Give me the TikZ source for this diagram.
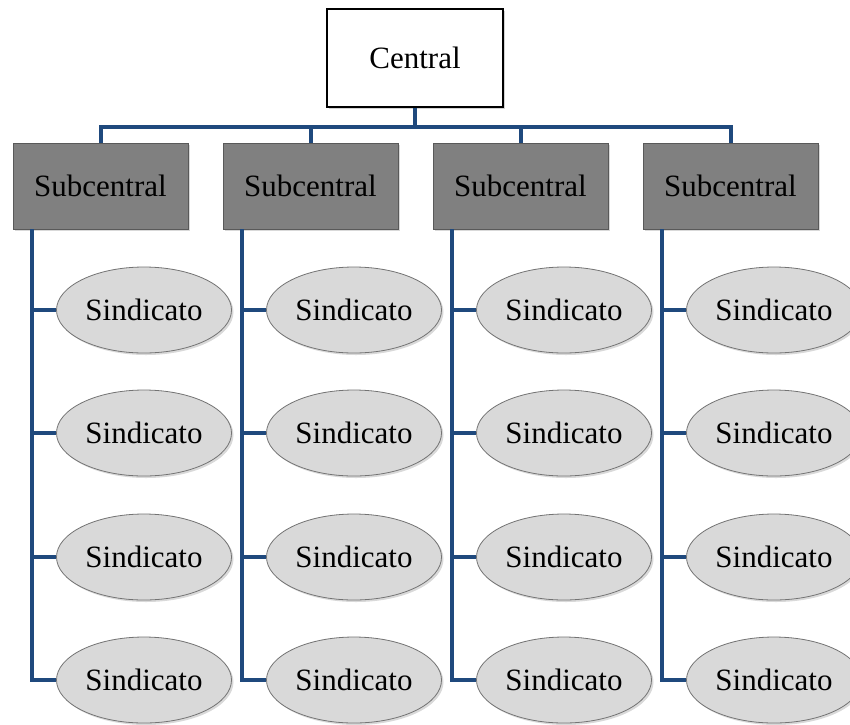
\documentclass[tikz,border=0pt]{standalone}
\usepackage{fontspec}
\setmainfont{Liberation Serif}
\usetikzlibrary{shapes.geometric,shadows}

\definecolor{linkblue}{RGB}{31,73,125}
\definecolor{subgray}{RGB}{128,128,128}
\definecolor{sindgray}{RGB}{217,217,217}

\begin{document}
\begin{tikzpicture}[
            x=1pt, y=-1pt,
            every node/.style={font=\fontsize{31}{36}\selectfont, inner sep=0pt},
            centralbox/.style={rectangle, draw=black, line width=1.5pt, fill=white,
                minimum width=176pt, minimum height=98pt,
                drop shadow={opacity=0.35, shadow xshift=2pt, shadow yshift=-2pt}},
            subbox/.style={rectangle, draw=black!65, line width=1pt, fill=subgray,
                minimum width=175pt, minimum height=86pt,
                drop shadow={opacity=0.3, shadow xshift=2pt, shadow yshift=-2pt}},
            sindicato/.style={ellipse, draw=black!55, line width=0.8pt, fill=sindgray,
                minimum width=175pt, minimum height=86pt,
                drop shadow={opacity=0.3, shadow xshift=2pt, shadow yshift=-2pt}},
            link/.style={draw=linkblue, line width=4pt}]

            \useasboundingbox (0,0) rectangle (850,724);

            \node[centralbox] (central) at (415,58) {Central};
            \coordinate (bus) at (0,127);

            \foreach \k/\xl in {1/13,2/223,3/433,4/643}{
                \node[subbox] (sub-\k) at (\xl+87.5,186) {Subcentral};
                \coordinate (spine-\k) at (\xl+19,229);
                \foreach \j/\yr in {1/310,2/433,3/557,4/680}{
                    \node[sindicato] (sind-\k-\j) at (\xl+131,\yr) {Sindicato};
                }
            }

            \foreach \k in {1,...,4}{
                \draw[link] (central.south) -- (central.south |- bus) -| (sub-\k.north);
                \foreach \j in {1,...,4}{
                    \draw[link] (spine-\k) |- (sind-\k-\j.west);
                }
            }
        \end{tikzpicture}
\end{document}
